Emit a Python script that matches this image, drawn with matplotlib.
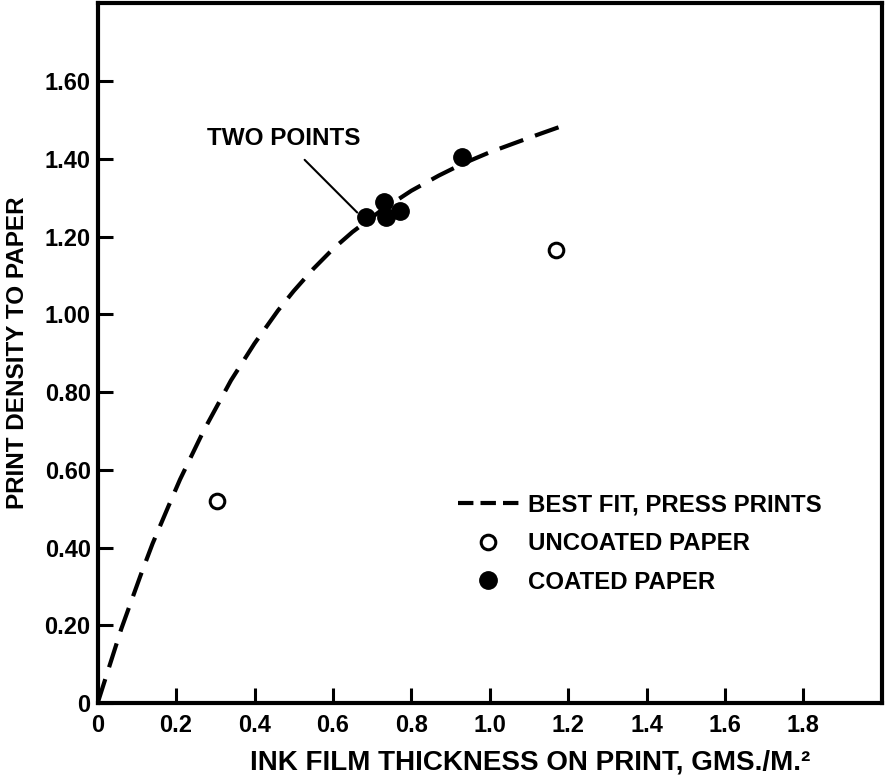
import matplotlib
matplotlib.use("Agg")
import matplotlib.pyplot as plt
from matplotlib.lines import Line2D

plt.rcParams['font.family'] = ['Liberation Sans', 'DejaVu Sans']
plt.rcParams['font.weight'] = 'bold'

# best fit curve
fit_x = [0, 0.06, 0.11, 0.14, 0.18, 0.21, 0.27, 0.34, 0.40, 0.46, 0.50, 0.55, 0.60, 0.65, 0.72, 0.80, 0.87, 0.93, 1.00, 1.07, 1.13, 1.20]
fit_y = [0, 0.19, 0.33, 0.41, 0.505, 0.575, 0.70, 0.83, 0.925, 1.01, 1.06, 1.117, 1.168, 1.212, 1.265, 1.318, 1.357, 1.387, 1.417, 1.443, 1.465, 1.49]

# uncoated paper (open circles)
uncoated_x = [0.304, 1.17]
uncoated_y = [0.52, 1.165]

# coated paper (filled circles)
coated_x = [0.685, 0.73, 0.735, 0.77, 0.93]
coated_y = [1.25, 1.29, 1.25, 1.265, 1.405]

xticks = [0, 0.2, 0.4, 0.6, 0.8, 1.0, 1.2, 1.4, 1.6, 1.8]
xtick_labels = ["0", "0.2", "0.4", "0.6", "0.8", "1.0", "1.2", "1.4", "1.6", "1.8"]
yticks = [0, 0.2, 0.4, 0.6, 0.8, 1.0, 1.2, 1.4, 1.6]
ytick_labels = ["0", "0.20", "0.40", "0.60", "0.80", "1.00", "1.20", "1.40", "1.60"]

fig = plt.figure(figsize=(8.88, 7.79), dpi=100)
ax = fig.add_axes([0.110, 0.0976, 0.883, 0.898])

ax.plot(fit_x, fit_y, color='black', lw=3.0, dashes=(6, 3), solid_capstyle='butt')
ax.plot(uncoated_x, uncoated_y, 'o', mfc='white', mec='black', ms=10.5, mew=2.2)
ax.plot(coated_x, coated_y, 'o', mfc='black', mec='black', ms=12.5, mew=1)

ax.annotate("TWO POINTS", xy=(0.662, 1.262), xytext=(0.474, 1.452),
            ha='center', va='center', fontsize=17.5, fontweight='bold',
            arrowprops=dict(arrowstyle='-', lw=1.5, color='black', shrinkA=7, shrinkB=0))

handles = [
    Line2D([], [], color='black', lw=3.0, dashes=(3.7, 1.7)),
    Line2D([], [], ls='none', marker='o', mfc='white', mec='black', ms=10.5, mew=2.2),
    Line2D([], [], ls='none', marker='o', mfc='black', mec='black', ms=12.5, mew=1),
]
labels = ["BEST FIT, PRESS PRINTS", "UNCOATED PAPER", "COATED PAPER"]
ax.legend(handles, labels, loc='upper left', bbox_to_anchor=(0.459, 0.299),
          frameon=False, borderpad=0, borderaxespad=0, handlelength=2.55,
          handletextpad=0.38, labelspacing=0.64,
          prop={'size': 17.3, 'weight': 'bold'})

ax.set_xlim(0, 2.0)
ax.set_ylim(0, 1.8)
ax.set_xticks(xticks)
ax.set_xticklabels(xtick_labels)
ax.set_yticks(yticks)
ax.set_yticklabels(ytick_labels)
ax.tick_params(direction='in', length=11, width=2.2, labelsize=17, color='black')
ax.tick_params(axis='x', pad=8)
ax.tick_params(axis='y', pad=5)
for s in ax.spines.values():
    s.set_linewidth(3)

ax.set_xlabel("INK FILM THICKNESS ON PRINT, GMS./M.\u00b2", fontsize=20, fontweight='bold')
ax.xaxis.set_label_coords(0.552, -0.067)
ax.set_ylabel("PRINT DENSITY TO PAPER", fontsize=17.5, fontweight='bold', labelpad=11)

plt.savefig("out.png", dpi=100)
